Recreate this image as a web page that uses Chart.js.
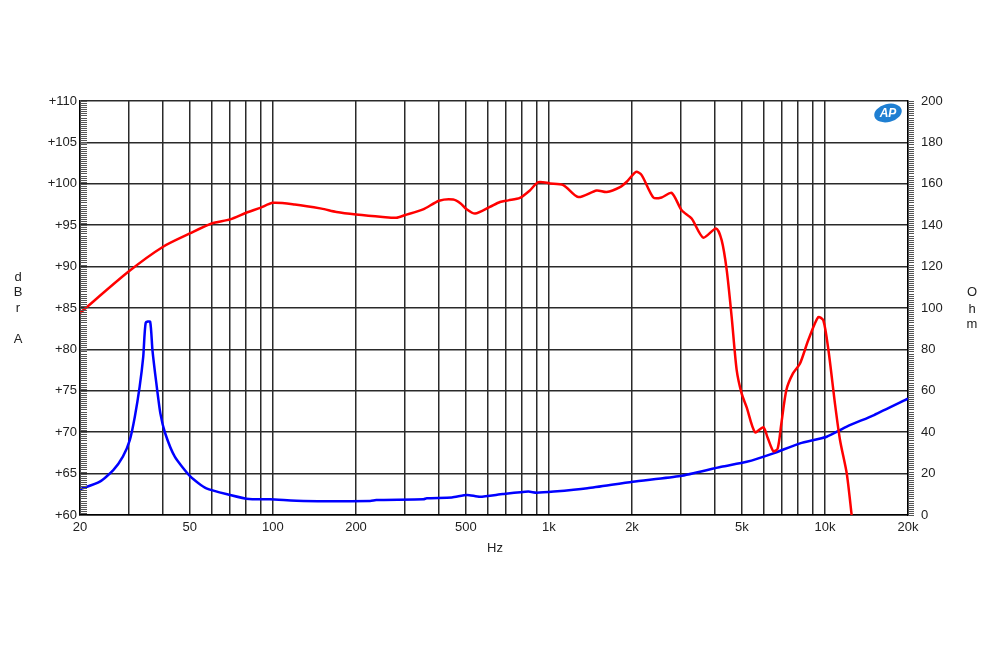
<!DOCTYPE html>
<html lang="en">
<head>
	<meta charset="UTF-8">
	<title>SPL / Impedance</title>
	<script src="https://cdn.jsdelivr.net/npm/chart.js@4.4.0/dist/chart.umd.min.js"></script>
	<style>
		body { margin: 0; background: #fff; }
		#wrap { position: relative; width: 1000px; height: 650px; }
	</style>
</head>
<body>
	<div id="wrap"><canvas id="grafico"></canvas></div>
	<script>
		// frequency response (dBrA, left axis)
		const splFreq = [20, 30, 40, 50, 60, 70, 80, 90, 100, 120, 150, 170, 200, 250, 280, 300, 350, 400, 450, 480, 500, 540, 611, 665, 713, 785, 853, 916, 1009, 1128, 1277, 1489, 1619, 1810, 1914, 2069, 2168, 2390, 2561, 2784, 3027, 3289, 3624, 4031, 4225, 4407, 4594, 4790, 4994, 5207, 5581, 5982, 6192, 6504, 6740, 6950, 7250, 7660, 8125, 8700, 9460, 9870, 10300, 10880, 11350, 12000, 12500];
		const splDb = [84.4, 89.4, 92.4, 94.0, 95.2, 95.7, 96.5, 97.1, 97.7, 97.5, 97.0, 96.6, 96.3, 96.0, 95.9, 96.2, 96.9, 97.95, 98.1, 97.6, 97.0, 96.4, 97.2, 97.8, 98.0, 98.3, 99.2, 100.2, 100.05, 99.85, 98.4, 99.2, 99.0, 99.6, 100.25, 101.45, 101.05, 98.35, 98.35, 98.9, 96.8, 95.8, 93.5, 94.6, 93.2, 89.6, 83.9, 77.5, 74.65, 73.0, 70.0, 70.6, 69.4, 67.7, 68.0, 71.0, 75.1, 77.1, 78.3, 81.1, 83.9, 83.5, 79.9, 73.4, 69.0, 65.0, 60.0];

		// impedance (Ohm, right axis)
		const impFreq = [20, 23.6, 26.4, 28.6, 30.3, 31.6, 32.9, 33.9, 34.6, 35.9, 36.6, 37.8, 39.1, 40.7, 44.1, 50.3, 57.4, 70, 82, 97.5, 129, 225, 237, 351, 361, 445, 505, 562, 681, 842, 902, 1042, 1378, 2010, 2990, 4212, 5207, 6504, 8125, 10150, 12000, 15070, 20000];
		const impOhm = [12.4, 16.1, 21.7, 28.2, 36.2, 47.5, 62.0, 76.5, 92.9, 93.4, 79.7, 63.8, 49.1, 39.5, 28.2, 18.5, 12.9, 9.7, 7.7, 7.6, 6.8, 6.8, 7.2, 7.6, 8.1, 8.5, 9.7, 8.8, 10.1, 11.3, 10.8, 11.3, 12.9, 16.1, 18.8, 23.3, 25.7, 29.8, 34.6, 37.8, 42.7, 48.3, 56.2];

		// axis ticks
		const gridFreqs = [20, 30, 40, 50, 60, 70, 80, 90, 100, 200, 300, 400, 500, 600, 700, 800, 900, 1000, 2000, 3000, 4000, 5000, 6000, 7000, 8000, 9000, 10000, 20000];
		const freqLabels = { 20: '20', 50: '50', 100: '100', 200: '200', 500: '500', 1000: '1k', 2000: '2k', 5000: '5k', 10000: '10k', 20000: '20k' };

		const fonte = { family: "'Liberation Sans', Arial, sans-serif", size: 13 };
		const corTexto = '#222';

		// minor ticks, stacked axis titles and the AP badge
		const extras = {
			id: 'extras',
			afterDraw(chart) {
				const ctx = chart.ctx;
				const a = chart.chartArea;
				const yl = chart.scales.y;
				const yr = chart.scales.y2;
				ctx.save();
				ctx.strokeStyle = '#555';
				ctx.lineWidth = 1;
				ctx.beginPath();
				for (let v = 60; v <= 110; v += 0.25) {
					const p = Math.round(yl.getPixelForValue(v)) + 0.5;
					ctx.moveTo(a.left, p); ctx.lineTo(a.left + 7, p);
				}
				for (let v = 0; v <= 200; v += 1) {
					const p = Math.round(yr.getPixelForValue(v)) + 0.5;
					ctx.moveTo(a.right, p); ctx.lineTo(a.right + 6, p);
				}
				ctx.stroke();

				ctx.fillStyle = corTexto;
				ctx.font = "13px 'Liberation Sans', Arial, sans-serif";
				ctx.textAlign = 'center';
				ctx.textBaseline = 'middle';
				[['d', 277], ['B', 292], ['r', 308], ['A', 339]].forEach(([t, y]) => ctx.fillText(t, 18, y));
				[['O', 292], ['h', 309], ['m', 324]].forEach(([t, y]) => ctx.fillText(t, 972, y));
				ctx.fillText('Hz', 495, 548);

				// AP badge
				ctx.translate(888, 113);
				ctx.rotate(-0.25);
				ctx.fillStyle = '#1f7fd2';
				ctx.beginPath();
				ctx.ellipse(0, 0, 14, 9, 0, 0, Math.PI * 2);
				ctx.fill();
				ctx.rotate(0.25);
				ctx.fillStyle = '#fff';
				ctx.font = "italic bold 12px 'Liberation Sans', Arial, sans-serif";
				ctx.fillText('AP', 0, 1);
				ctx.restore();
			}
		};

		new Chart(document.querySelector('#grafico'), {
			type: 'line',
			data: {
				datasets: [
					{
						label: 'dBrA',
						data: splFreq.map((f, i) => ({ x: f, y: splDb[i] })),
						yAxisID: 'y',
						borderColor: '#ff0000',
						borderWidth: 2.5,
						pointRadius: 0,
						tension: 0.25,
						order: 1
					},
					{
						label: 'Ohm',
						data: impFreq.map((f, i) => ({ x: f, y: impOhm[i] })),
						yAxisID: 'y2',
						borderColor: '#0000ff',
						borderWidth: 2.5,
						pointRadius: 0,
						tension: 0.2,
						order: 2
					}
				]
			},
			options: {
				responsive: true,
				maintainAspectRatio: false,
				animation: false,
				layout: { padding: { top: 101, left: 0, right: 0, bottom: 0 } },
				plugins: { legend: { display: false }, tooltip: { enabled: false } },
				scales: {
					x: {
						type: 'logarithmic',
						min: 20,
						max: 20000,
						afterBuildTicks: s => { s.ticks = gridFreqs.map(v => ({ value: v })); },
						afterFit: s => { s.height = 135; },
						ticks: {
							autoSkip: false,
							maxRotation: 0,
							padding: 5,
							color: corTexto,
							font: fonte,
							callback: v => freqLabels[v] || ''
						},
						grid: { color: '#2a2a2a', lineWidth: 1.5, drawTicks: false },
						border: { color: '#000', width: 1.5 }
					},
					y: {
						position: 'left',
						min: 60,
						max: 110,
						afterFit: s => { s.width = 80; },
						ticks: {
							stepSize: 5,
							padding: 3,
							color: corTexto,
							font: fonte,
							callback: v => '+' + v
						},
						grid: { color: '#2a2a2a', lineWidth: 1.5, drawTicks: false },
						border: { color: '#000', width: 1.5 }
					},
					y2: {
						position: 'right',
						min: 0,
						max: 200,
						afterFit: s => { s.width = 92; },
						ticks: {
							stepSize: 20,
							padding: 13,
							color: corTexto,
							font: fonte
						},
						grid: { drawOnChartArea: false, drawTicks: false },
						border: { color: '#000', width: 1.5 }
					}
				}
			},
			plugins: [extras]
		});
	</script>
</body>
</html>
